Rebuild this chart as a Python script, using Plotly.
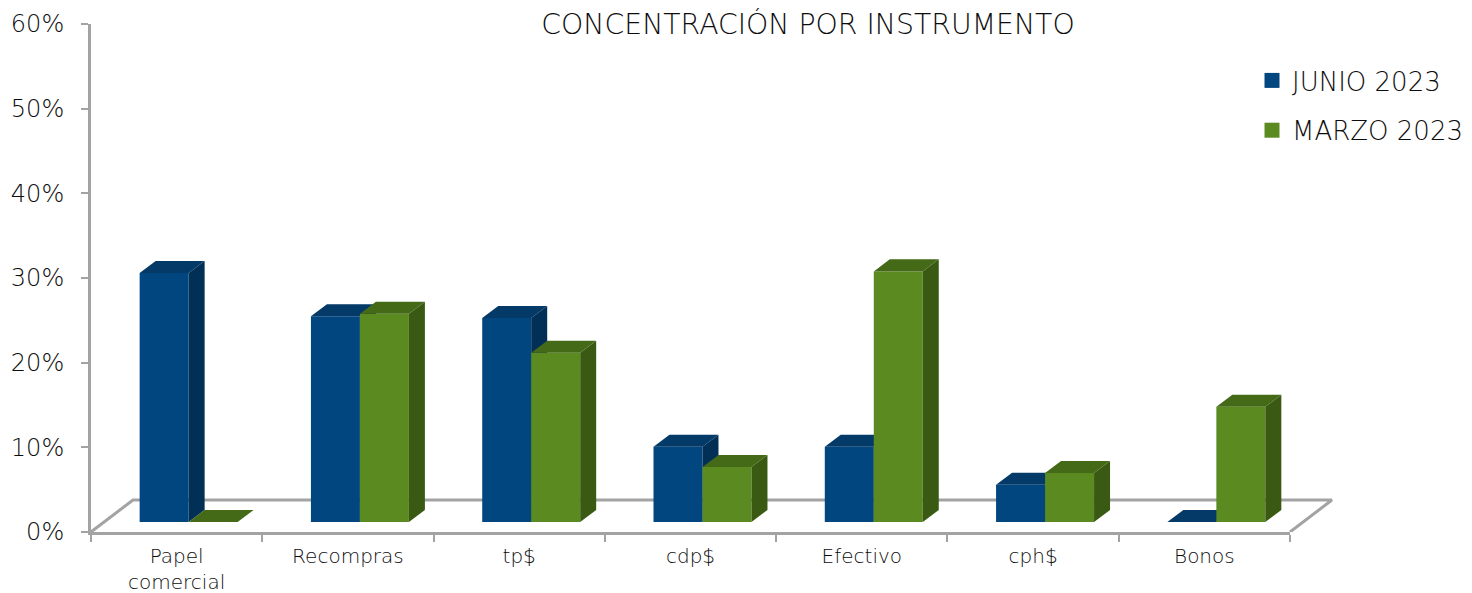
import plotly.graph_objects as go

categories = ["Papel<br>comercial", "Recompras", "tp$", "cdp$", "Efectivo", "cph$", "Bonos"]
junio = [29.4, 24.3, 24.1, 8.9, 8.9, 4.4, 0.0]
marzo = [0.0, 24.6, 20.0, 6.5, 29.6, 5.8, 13.6]
y_ticks = [0, 10, 20, 30, 40, 50, 60]
y_labels = ["0%", "10%", "20%", "30%", "40%", "50%", "60%"]

FONT = "DejaVu Sans"
INK = "#0D0D0D"
AXIS = "#A3A3A3"
BASE = 1.18      # bars stand this far above the front of the floor
DY = 1.42        # depth of a bar, in axis units
DX = 0.0934      # depth of a bar, in category units
BAR_W = 0.286
SHIFT = 0.07
FLOOR_DY = 3.78
FLOOR_DX = 0.245

XR = [-0.5, 6.5]
YR = [0, 60]

# the page body adds an 8 px margin around the figure
W, H = 1500, 585
ML, MT, MR, MB = 83, 16, 168, 61
PW, PH = W - ML - MR, H - MT - MB
AXIS_PX = 1199                                      # length of the visible category axis
AXIS_FRAC = AXIS_PX / PW
FLOOR_XR = [XR[0], XR[0] + (XR[1] - XR[0]) / AXIS_FRAC]   # same scale, wider window for the floor


def faces(values, left_off):
    sx, sy, tx, ty = [], [], [], []
    for i, v in enumerate(values):
        xl = i + SHIFT + left_off
        xr = xl + BAR_W
        top = BASE + v
        sx += [xr, xr + DX, xr + DX, xr, xr, None]
        sy += [BASE, BASE + DY, top + DY, top, BASE, None]
        tx += [xl, xl + DX, xr + DX, xr, xl, None]
        ty += [top, top + DY, top + DY, top, top, None]
    return sx, sy, tx, ty


def add_series(fig, name, values, left_off, front, side, top, xa, ya):
    sx, sy, tx, ty = faces(values, left_off)
    fig.add_trace(go.Bar(
        name=name, x=list(range(len(values))), y=values, base=BASE, width=BAR_W,
        offset=SHIFT + left_off, marker=dict(color=front, line=dict(width=0)),
        xaxis=xa, yaxis=ya, legendgroup=name, showlegend=False, hoverinfo="name+y"))
    for px, py, col in ((sx, sy, side), (tx, ty, top)):
        fig.add_trace(go.Scatter(
            x=px, y=py, mode="lines", fill="toself", fillcolor=col,
            line=dict(width=0, color=col), showlegend=False, hoverinfo="skip",
            xaxis=xa, yaxis=ya, legendgroup=name))
    # legend entry with a larger square swatch
    fig.add_trace(go.Scatter(
        name=name, x=[None], y=[None], mode="markers",
        marker=dict(symbol="square", size=15, color=front, line=dict(width=0)),
        xaxis=xa, yaxis=ya, legendgroup=name, hoverinfo="skip"))


fig = go.Figure()

# floor behind the bars: its own, wider subplot, drawn first
fig.add_trace(go.Scatter(
    x=[XR[0], XR[0] + FLOOR_DX, XR[1] + FLOOR_DX, XR[1]],
    y=[YR[0], FLOOR_DY, FLOOR_DY, YR[0]],
    mode="lines", line=dict(color=AXIS, width=3),
    showlegend=False, hoverinfo="skip", xaxis="x", yaxis="y"))

add_series(fig, "JUNIO 2023", junio, -BAR_W, "#024680", "#012F56", "#033A68", "x2", "y2")
add_series(fig, "MARZO 2023", marzo, 0.0, "#5B8A21", "#3A5A13", "#446A18", "x3", "y3")

hidden = dict(visible=False, showgrid=False, zeroline=False)
fig.update_layout(
    width=W, height=H,
    margin=dict(l=ML, r=MR, t=MT, b=MB, pad=0),
    paper_bgcolor="white", plot_bgcolor="rgba(0,0,0,0)",
    barmode="overlay",
    font=dict(family=FONT, color=INK, size=24, weight=200),
    title=dict(text="CONCENTRACIÓN POR INSTRUMENTO", x=(808 - 8) / W, xref="container", xanchor="center",
               y=1 - (24 - 8) / H, yref="container", yanchor="middle",
               font=dict(family=FONT, size=28.3, color=INK, weight=200), automargin=False),
    xaxis=dict(range=FLOOR_XR, domain=[0, 1], anchor="y", **hidden),
    yaxis=dict(range=YR, anchor="x", **hidden),
    xaxis2=dict(range=XR, domain=[0, AXIS_FRAC], anchor="y2", tickmode="array",
                tickvals=list(range(len(categories))), ticktext=categories,
                ticks="", showgrid=False, zeroline=False, showline=True, linecolor=AXIS, linewidth=3,
                ticklabelstandoff=4, automargin=False,
                tickfont=dict(family=FONT, size=20, color=INK, weight=200),
                minor=dict(tickmode="array", tickvals=[i - 0.5 for i in range(len(categories) + 1)],
                           ticks="outside", ticklen=7, tickwidth=2, tickcolor=AXIS, showgrid=False)),
    yaxis2=dict(range=YR, anchor="x2", tickmode="array", tickvals=y_ticks, ticktext=y_labels, ticks="outside",
                ticklen=7, tickwidth=2, tickcolor=AXIS, showgrid=False, zeroline=False, showline=True,
                linecolor=AXIS, linewidth=3, ticklabelstandoff=12, automargin=False,
                tickfont=dict(family=FONT, size=24, color=INK, weight=200)),
    xaxis3=dict(overlaying="x2", range=XR, anchor="y3", **hidden),
    yaxis3=dict(overlaying="y2", range=YR, anchor="x3", **hidden),
    legend=dict(x=(1244 - ML) / PW, y=1 - (49 - MT) / PH, xanchor="left", yanchor="top",
                bgcolor="rgba(0,0,0,0)", tracegroupgap=13, itemclick=False, itemdoubleclick=False,
                font=dict(family=FONT, size=26, color=INK, weight=200)),
    showlegend=True,
)

fig.write_html("out.html")
